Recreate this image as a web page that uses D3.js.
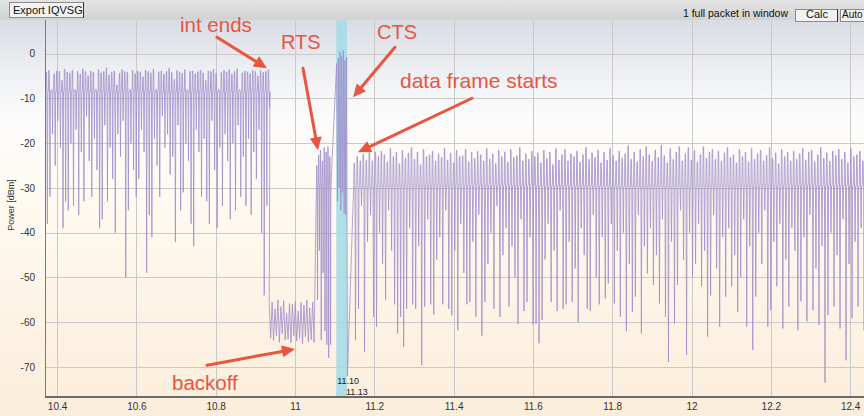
<!DOCTYPE html>
<html>
<head>
<meta charset="utf-8">
<script src="https://cdn.jsdelivr.net/npm/d3@7"></script>
<style>
  html, body { margin: 0; padding: 0; background: #fff; }
  svg { display: block; font-family: "Liberation Sans", Arial, Helvetica, sans-serif; }
</style>
</head>
<body>
<svg id="chart" width="864" height="416"></svg>
<script>
// ---- axes ----
const timeTicks = [10.4, 10.6, 10.8, 11, 11.2, 11.4, 11.6, 11.8, 12, 12.2, 12.4];
const powerTicks = [0, -10, -20, -30, -40, -50, -60, -70];
const timeDomain = [10.3695, 12.435];
const powerDomain = [-76.7, 7.05];

// ---- power trace, one [peak, dip] pair (dBm) per burst ----
// interference before the exchange
const intStart = 10.3715, intStep = 0.00659, intFloor = -8.5;
const intSpikes = [
  [-4.2,-38],[-3.8,-32],[-8,-18],[-4.5,-25],[-3.9,-15],[-4,-21],[-6,-39],[-3.5,-33],[-4.1,-35],[-4.4,-20],
  [-3.7,-34],[-8,-17],[-4,-36],[-4.6,-22],[-3.4,-33],[-4,-14],[-5,-24],[-3.9,-32],[-4.2,-19],[-8,-26],
  [-3.6,-39],[-4.3,-37],[-4,-16],[-3.2,-33],[-4.8,-21],[-4.1,-28],[-3.9,-40],[-7,-18],[-4.4,-23],[-3.6,-15],
  [-4,-50],[-4.2,-35],[-8,-20],[-3.8,-26],[-4.5,-32],[-3.9,-28],[-4.1,-17],[-5.2,-22],[-3.7,-49],[-4,-36],
  [-4.3,-41],[-3.5,-19],[-8,-25],[-4.1,-32],[-3.9,-14],[-4.6,-21],[-4,-18],[-3.3,-27],[-4.2,-23],[-5.8,-42],
  [-3.8,-16],[-4.1,-35],[-4.4,-31],[-3.6,-20],[-8,-24],[-4,-38],[-3.9,-43],[-4.5,-17],[-4.1,-22],[-3.7,-32],
  [-4.3,-19],[-6,-33],[-3.9,-38],[-4,-15],[-3.5,-26],[-4.4,-39],[-8,-21],[-4.2,-34],[-3.8,-18],[-4.1,-24],
  [-3.6,-37],[-4.6,-20],[-4,-35],[-3.4,-16],[-8,-32],[-4.3,-23],[-3.9,-34],[-4.1,-19],[-4.5,-36],[-3.7,-22],
  [-4,-28],[-5,-17],[-3.8,-40],[-4.2,-54],[-4,-34],[-3.6,-12]
];

// backoff: noise floor only
const backoffStart = 10.935, backoffStep = 0.0073;
const backoffSpikes = [
  [-56,-63.5],[-55.5,-64],[-57,-63],[-55,-64.5],[-56.5,-62.5],[-55.2,-64],[-58,-63.8],[-55.8,-64.6],
  [-56,-63],[-55.4,-64.2],[-57.5,-63.6],[-55.6,-64.8],[-56.2,-63.2],[-55,-64.4],[-56.8,-63.9],[-55.5,-64.5]
];

// RTS
const rtsStart = 11.054, rtsStep = 0.0047, rtsFloor = -29.5;
const rtsSpikes = [[-25,-55],[-22.7,-44],[-21.6,-64],[-24,-49],[-21,-62],[-22,-65],[-20.8,-68],[-23,-65]];

// CTS
const ctsStart = 11.105, ctsStep = 0.0042;
const ctsSpikes = [[-2.2,-33],[-1,-30],[0.4,-35],[-0.5,-31],[0.7,-35.7],[-1.5,-36],[-0.8,-72]];

// data frame
const dataStart = 11.148, dataStep = 0.00759, dataFloor = -29.5;
const dataSpikes = [
  [-24.5,-64],[-23,-57],[-24,-34],[-22.5,-66.6],[-23.8,-42],[-21.5,-36],[-24,-58.8],[-22,-61],[-23,-40],[-21.8,-47],
  [-22.6,-55],[-24.2,-35],[-21.2,-44],[-23,-56],[-22,-62.5],[-24.6,-58.8],[-21.6,-65.5],[-23.4,-57],[-22.2,-39],[-21,-56],
  [-23.6,-57],[-22,-43],[-24.8,-69.6],[-21.4,-56.5],[-23,-37],[-22.6,-56],[-21.8,-58.3],[-24,-46],[-22.4,-41],[-23.2,-56],
  [-21.2,-35],[-23.8,-57],[-22.2,-58.5],[-24.4,-44],[-21.6,-61.8],[-23,-38],[-22.8,-49],[-21.4,-56],[-24.2,-55.5],[-22,-42],
  [-23.4,-58.8],[-21.8,-36],[-22.6,-63],[-24,-55.5],[-21.2,-47],[-23.6,-40],[-22.4,-57],[-24.6,-34],[-21.6,-58.8],[-23,-45],
  [-22,-39],[-24.2,-56.5],[-21.4,-43],[-23.2,-50],[-22.8,-60.4],[-21,-37],[-24,-57.5],[-22.4,-55.5],[-23.6,-41],[-21.8,-60.5],
  [-23,-60.3],[-22.2,-64.7],[-24.4,-59.5],[-21.6,-46],[-23.4,-38],[-22,-55.5],[-24.8,-44],[-21.2,-57.5],[-23.8,-35],[-22.6,-57],
  [-21.4,-56],[-24,-42],[-22.4,-55.5],[-23,-48],[-21.8,-60],[-24.2,-39],[-22.6,-45],[-21,-57],[-23.6,-57.5],[-22.2,-36],
  [-23.2,-50],[-21.6,-56],[-24.4,-41],[-22,-54.7],[-23.8,-51.3],[-21.2,-38],[-22.8,-55.8],[-24,-44],[-21.8,-58.8],[-23.4,-40],
  [-22.4,-62],[-20.6,-47],[-23.6,-57.7],[-22,-54.3],[-24.2,-36],[-21.4,-62.5],[-23,-43],[-20.8,-49.1],[-22.6,-39],[-24,-51.7],
  [-21.6,-45],[-23.2,-55.8],[-20.5,-37],[-22.8,-58.8],[-24.4,-68.8],[-21.2,-42],[-23.6,-60.3],[-22,-51.7],[-20.8,-35],[-24,-46],
  [-22.4,-67.3],[-21,-40],[-23.8,-49.9],[-21.6,-46.9],[-24.2,-38],[-22.6,-52],[-20.8,-44],[-23.4,-63.3],[-22,-54],[-21.4,-36],
  [-23.6,-48],[-21.8,-61],[-24,-41],[-22.2,-54.3],[-21,-39],[-23.2,-52],[-22.6,-45],[-24.4,-57.7],[-21.4,-49.9],[-23,-37],
  [-22,-61],[-24.2,-43],[-21.2,-66.2],[-23.6,-54.3],[-22.4,-40],[-21.6,-47],[-24,-35],[-22.8,-61],[-21,-57.3],[-23.4,-42],
  [-22.2,-52],[-24.6,-38],[-21.4,-61.4],[-23,-46],[-22,-56.5],[-24,-39],[-21.8,-44],[-23.6,-61.8],[-22.4,-55.3],[-21.2,-41],
  [-23.8,-59.8],[-22,-36],[-21.6,-57.3],[-24.2,-48],[-22.6,-60.6],[-21,-43],[-23.4,-73.5],[-22.2,-58.4],[-24,-40],[-21.8,-56.5],
  [-22.8,-45],[-21.4,-61.4],[-23.6,-37],[-22,-68.5],[-24.4,-47],[-21.2,-59.1],[-23,-42],[-22.6,-56.5],[-21.8,-39],[-24,-61.8]
];

// packet window markers
const markerTimes = [11.104, 11.131];

// annotations, positioned in chart units (s, dBm)
const noteTexts = ["int ends", "RTS", "CTS", "data frame starts", "backoff"];
const noteAt = [[10.710, 4.9], [10.9647, 0.96], [11.2068, 3.19], [11.2648, -7.75], [10.6898, -75.1]];
const noteSize = [20.5, 20, 20, 21, 20.5];
const arrowFrom = [[10.8033, 3.64], [11.0202, -3.28], [11.2522, 1.41], [11.4464, -9.98], [10.778, -69.6]];
const arrowTo = [[10.9294, -3.28], [11.058, -21.6], [11.1463, -9.75], [11.1589, -22.03], [11.0, -66.0]];

// ---- layout ----
const W = 864, H = 416;
const plot = { left: 45, right: 864, top: 20, bottom: 397 };
const svg = d3.select("#chart");

const x = d3.scaleLinear().domain(timeDomain).range([plot.left, plot.right]);
const y = d3.scaleLinear().domain(powerDomain).range([plot.bottom, 22]);

const defs = svg.append("defs");
const bg = defs.append("linearGradient").attr("id", "bg").attr("x1", 0).attr("y1", 0).attr("x2", 0).attr("y2", 1);
[[0, "#d9dce3"], [0.12, "#eceef2"], [0.25, "#fcfcfc"], [0.45, "#fefaf1"], [1, "#fbeddb"]]
  .forEach(([o, c]) => bg.append("stop").attr("offset", o).attr("stop-color", c));
const tb = defs.append("linearGradient").attr("id", "tb").attr("x1", 0).attr("y1", 0).attr("x2", 0).attr("y2", 1);
[[0, "#e4e4e4"], [1, "#d2d2d2"]].forEach(([o, c]) => tb.append("stop").attr("offset", o).attr("stop-color", c));
defs.append("clipPath").attr("id", "plotClip").append("rect")
  .attr("x", plot.left).attr("y", plot.top).attr("width", plot.right - plot.left).attr("height", plot.bottom - plot.top);

svg.append("rect").attr("x", 0).attr("y", 20).attr("width", W).attr("height", H - 20).attr("fill", "url(#bg)");
svg.append("rect").attr("x", 0).attr("y", 0).attr("width", W).attr("height", 20).attr("fill", "url(#tb)");

// grid
const grid = svg.append("g").attr("stroke", "#c9c9c9").attr("stroke-width", 1);
grid.selectAll("line.v").data(timeTicks).join("line").attr("class", "v")
  .attr("x1", d => Math.round(x(d)) + 0.5).attr("x2", d => Math.round(x(d)) + 0.5)
  .attr("y1", plot.top).attr("y2", plot.bottom);
grid.selectAll("line.h").data(powerTicks).join("line").attr("class", "h")
  .attr("x1", plot.left).attr("x2", plot.right)
  .attr("y1", d => Math.round(y(d)) + 0.5).attr("y2", d => Math.round(y(d)) + 0.5);

// packet window band
svg.append("rect")
  .attr("x", x(markerTimes[0])).attr("width", x(markerTimes[1]) - x(markerTimes[0]))
  .attr("y", plot.top).attr("height", plot.bottom - plot.top)
  .attr("fill", "#a6dce6").attr("opacity", 0.9);

// trace
const pts = [];
function addBursts(start, step, floor, spikes) {
  spikes.forEach(([peak, dip], i) => {
    const t = start + i * step;
    if (floor == null) {
      pts.push([t, peak], [t + step * 0.5, dip]);
    } else {
      pts.push([t, floor], [t + step * 0.12, peak], [t + step * 0.28, peak], [t + step * 0.42, floor],
               [t + step * 0.6, dip], [t + step * 0.78, floor]);
    }
  });
}
addBursts(intStart, intStep, intFloor, intSpikes);
addBursts(backoffStart, backoffStep, null, backoffSpikes);
addBursts(rtsStart, rtsStep, rtsFloor, rtsSpikes);
addBursts(ctsStart, ctsStep, null, ctsSpikes);
addBursts(dataStart, dataStep, dataFloor, dataSpikes);

svg.append("path")
  .attr("clip-path", "url(#plotClip)")
  .attr("d", d3.line().x(d => x(d[0])).y(d => y(d[1]))(pts))
  .attr("fill", "none").attr("stroke", "#a08ecb").attr("stroke-width", 1)
  .attr("stroke-opacity", 0.8).attr("stroke-linejoin", "miter");

// axes
const xAxis = svg.append("g").attr("transform", `translate(0,${plot.bottom})`)
  .call(d3.axisBottom(x).tickValues(timeTicks).tickSize(0).tickPadding(6).tickFormat(d => String(d)));
xAxis.select(".domain").remove();
xAxis.selectAll("text").attr("font-size", 10).attr("fill", "#333").attr("font-family", null);

const yAxis = svg.append("g").attr("transform", `translate(${plot.left},0)`)
  .call(d3.axisLeft(y).tickValues(powerTicks).tickSize(0).tickPadding(10).tickFormat(d => String(d)));
yAxis.select(".domain").remove();
yAxis.selectAll("text").attr("font-size", 10).attr("fill", "#333").attr("font-family", null);

svg.append("line").attr("x1", plot.left + 0.5).attr("x2", plot.left + 0.5)
  .attr("y1", plot.top).attr("y2", plot.bottom).attr("stroke", "#7a7a7a").attr("stroke-width", 1);
svg.append("line").attr("x1", plot.left).attr("x2", plot.right)
  .attr("y1", plot.bottom).attr("y2", plot.bottom).attr("stroke", "#6a6a6a").attr("stroke-width", 2);

svg.append("text").attr("transform", "translate(14,205) rotate(-90)")
  .attr("text-anchor", "middle").attr("font-size", 9).attr("fill", "#333").text("Power [dBm]");

// marker labels
svg.append("text").attr("x", x(markerTimes[0]) + 1).attr("y", 384)
  .attr("font-size", 9).attr("fill", "#222").text(markerTimes[0].toFixed(2));
svg.append("text").attr("x", x(markerTimes[1]) - 1).attr("y", 395)
  .attr("font-size", 9).attr("fill", "#222").text(markerTimes[1].toFixed(2));

// toolbar
function button(x0, y0, w, h, label, tx, fs) {
  svg.append("rect").attr("x", x0 + 0.5).attr("y", y0 + 0.5).attr("width", w).attr("height", h)
    .attr("fill", "#f2f2f2").attr("stroke", "#8a8a8a");
  svg.append("line").attr("x1", x0 + w + 0.5).attr("x2", x0 + w + 0.5).attr("y1", y0).attr("y2", y0 + h + 1)
    .attr("stroke", "#333");
  svg.append("text").attr("x", tx).attr("y", y0 + h - 3).attr("font-size", fs).attr("fill", "#111").text(label);
}
button(9, 2, 74, 15, "Export IQVSG", 13, 11);
svg.append("text").attr("x", 788).attr("y", 17).attr("text-anchor", "end")
  .attr("font-size", 10.5).attr("fill", "#111").text("1 full packet in window");
button(795, 9, 42, 12, "Calc", 806, 11);
button(840, 9, 40, 12, "Auto", 842, 10);

// annotations
const red = "#e9553f";
const ann = svg.append("g");
arrowFrom.forEach((f, i) => {
  const x0 = x(f[0]), y0 = y(f[1]), x1 = x(arrowTo[i][0]), y1 = y(arrowTo[i][1]);
  const a = Math.atan2(y1 - y0, x1 - x0), L = 13, Wd = 6;
  const bx = x1 - L * Math.cos(a), by = y1 - L * Math.sin(a);
  ann.append("line").attr("x1", x0).attr("y1", y0).attr("x2", bx).attr("y2", by)
    .attr("stroke", red).attr("stroke-width", 3).attr("stroke-linecap", "round");
  ann.append("polygon")
    .attr("points", [[x1, y1],
      [bx + Wd * Math.sin(a), by - Wd * Math.cos(a)],
      [bx - Wd * Math.sin(a), by + Wd * Math.cos(a)]].map(p => p.join(",")).join(" "))
    .attr("fill", red);
});
noteTexts.forEach((t, i) => {
  ann.append("text").attr("x", x(noteAt[i][0])).attr("y", y(noteAt[i][1]))
    .attr("font-size", noteSize[i]).attr("fill", red).text(t);
});
</script>
</body>
</html>
